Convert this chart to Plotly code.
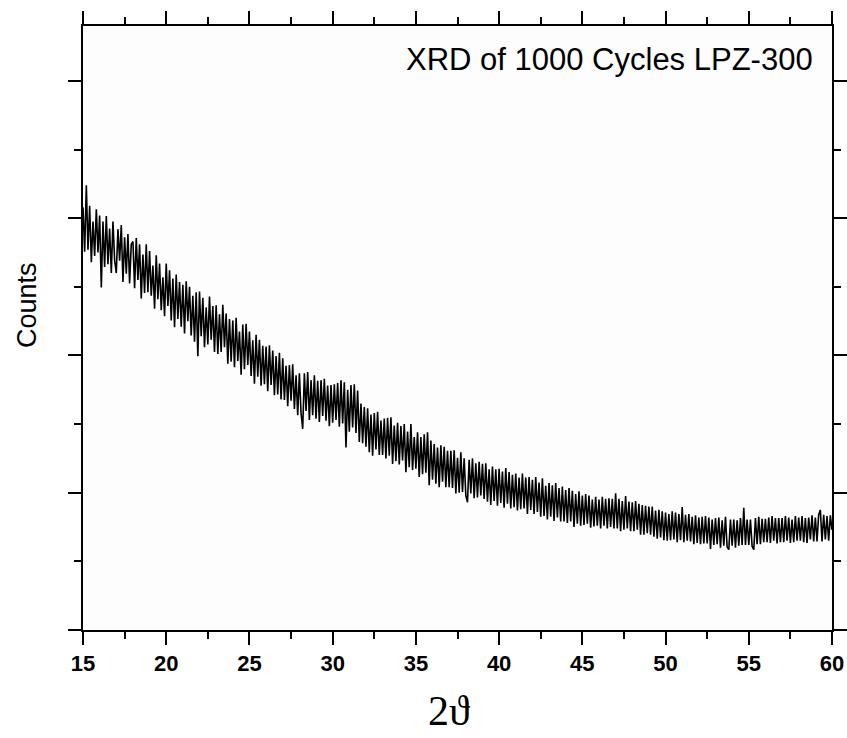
import numpy as np
import plotly.graph_objects as go

# 2-theta grid (degrees), step 0.1 from 15 to 60
x_start, x_step = 15.0, 0.1

# Counts (arbitrary units; one major y tick = 200)
counts = [
    616, 551, 648, 554, 618, 536, 595, 545, 613, 550,   # 15
    604, 499, 595, 529, 603, 533, 585, 520, 595, 539,   # 16
    520, 584, 538, 590, 507, 572, 519, 577, 505, 562,   # 17
    566, 498, 571, 510, 562, 483, 547, 491, 562, 492,   # 18
    552, 487, 531, 468, 546, 482, 534, 466, 514, 457,   # 19
    534, 472, 524, 451, 512, 441, 518, 453, 507, 442,   # 20
    503, 432, 508, 450, 500, 429, 487, 420, 492, 399,   # 21
    493, 428, 484, 412, 470, 416, 486, 423, 472, 405,   # 22
    473, 402, 460, 405, 474, 412, 461, 388, 453, 391,   # 23
    451, 383, 455, 392, 435, 372, 445, 380, 446, 386,   # 24
    435, 370, 422, 359, 430, 369, 423, 356, 414, 358,   # 25
    413, 348, 415, 357, 407, 342, 399, 343, 404, 336,   # 26
    396, 335, 385, 326, 386, 334, 387, 322, 371, 313,   # 27
    374, 316, 293, 374, 319, 376, 306, 364, 313, 371,   # 28
    308, 363, 303, 364, 312, 366, 305, 356, 297, 357,   # 29
    302, 358, 306, 360, 296, 364, 301, 361, 266, 350,   # 30
    289, 357, 295, 358, 287, 349, 274, 330, 272, 325,   # 31
    267, 323, 259, 314, 254, 316, 263, 318, 255, 305,   # 32
    255, 308, 250, 309, 254, 310, 242, 298, 246, 302,   # 33
    241, 297, 247, 300, 230, 289, 237, 300, 233, 281,   # 34
    235, 288, 223, 281, 227, 285, 229, 288, 211, 276,   # 35
    219, 271, 213, 266, 208, 269, 216, 267, 208, 261,   # 36
    208, 261, 207, 262, 199, 251, 200, 259, 201, 250,   # 37
    196, 186, 248, 199, 250, 192, 243, 193, 245, 196,   # 38
    242, 191, 243, 187, 234, 182, 238, 188, 234, 181,   # 39
    235, 185, 231, 178, 236, 184, 230, 177, 226, 179,   # 40
    228, 174, 222, 176, 228, 177, 222, 169, 223, 175,   # 41
    219, 169, 223, 172, 215, 165, 221, 166, 210, 161,   # 42
    214, 165, 211, 159, 214, 164, 207, 158, 209, 158,   # 43
    204, 156, 207, 158, 203, 150, 198, 155, 202, 152,   # 44
    196, 153, 198, 155, 196, 149, 190, 151, 194, 152,   # 45
    190, 148, 194, 152, 191, 148, 192, 150, 191, 148,   # 46
    199, 148, 191, 144, 188, 146, 195, 148, 187, 144,   # 47
    186, 144, 188, 146, 184, 139, 182, 139, 181, 141,   # 48
    180, 139, 180, 136, 174, 133, 175, 135, 173, 131,   # 49
    171, 130, 169, 131, 173, 132, 171, 128, 169, 131,   # 50
    179, 128, 168, 130, 169, 129, 165, 125, 167, 127,   # 51
    164, 125, 165, 126, 166, 126, 164, 118, 161, 124,   # 52
    163, 125, 164, 120, 160, 123, 165, 121, 117, 161,   # 53
    123, 161, 120, 160, 123, 163, 124, 178, 124, 161,   # 54
    124, 161, 122, 117, 163, 125, 165, 125, 162, 128,   # 55
    162, 128, 164, 127, 166, 130, 163, 126, 163, 128,   # 56
    163, 128, 166, 130, 164, 127, 161, 128, 166, 130,   # 57
    164, 130, 166, 128, 163, 127, 164, 132, 167, 129,   # 58
    164, 129, 168, 175, 129, 168, 132, 166, 130, 167,   # 59
    146,                                                # 60
]
two_theta = np.round(x_start + x_step * np.arange(len(counts)), 2)

x_ticks = [15, 20, 25, 30, 35, 40, 45, 50, 55, 60]
title_text = "XRD of 1000 Cycles LPZ-300"

fig = go.Figure()
fig.add_trace(go.Scatter(
    x=two_theta, y=counts, mode="lines",
    line=dict(color="black", width=1.6),
    showlegend=False, hoverinfo="skip",
))

axis_common = dict(
    showline=True, linewidth=2, linecolor="black", mirror="allticks",
    ticks="outside", ticklen=13, tickwidth=2, tickcolor="black",
    showgrid=False, zeroline=False, automargin=False,
)

fig.update_layout(
    width=847, height=738,
    margin=dict(l=83, r=15, t=26, b=108),
    paper_bgcolor="white", plot_bgcolor="#fdfdfd",
    xaxis=dict(
        range=[15, 60], tickmode="array", tickvals=x_ticks,
        ticktext=[str(t) for t in x_ticks],
        tickfont=dict(family="Liberation Sans, Arial", size=22, color="black", weight="bold"),
        minor=dict(ticks="outside", ticklen=7, tickwidth=2, tickcolor="black", dtick=2.5),
        **axis_common,
    ),
    yaxis=dict(
        range=[0, 880], dtick=200, tick0=0, showticklabels=False,
        minor=dict(ticks="outside", ticklen=7, tickwidth=2, tickcolor="black", dtick=100),
        **axis_common,
    ),
    annotations=[
        dict(text=title_text, xref="paper", yref="paper",
             x=(815 - 83) / 749, y=(630 - 59) / 604, xanchor="right", yanchor="middle",
             showarrow=False, font=dict(family="Liberation Sans, Arial", size=31, color="black")),
        dict(text="Counts", xref="paper", yref="paper",
             x=(27 - 83) / 749, y=(630 - 305) / 604, xanchor="center", yanchor="middle",
             textangle=-90, showarrow=False,
             font=dict(family="Liberation Sans, Arial", size=27, color="black")),
        dict(text="2\u03d1", xref="paper", yref="paper",
             x=(449 - 83) / 749, y=(630 - 736) / 604, xanchor="center", yanchor="bottom",
             showarrow=False,
             font=dict(family="Liberation Serif, DejaVu Serif, serif", size=42, color="black")),
    ],
)

fig.write_html("out.html")
